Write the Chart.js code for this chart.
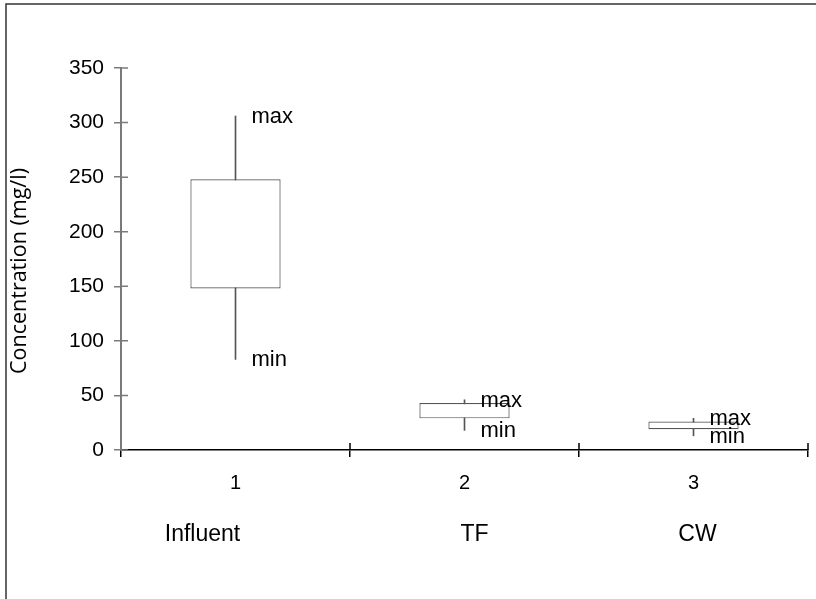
<!DOCTYPE html>
<html>
<head>
<meta charset="utf-8">
<title>Concentration box plot</title>
<script src="https://cdn.jsdelivr.net/npm/chart.js@4/dist/chart.umd.min.js"></script>
<style>
  html, body { margin: 0; padding: 0; background: #fff; }
  canvas { display: block; }
</style>
</head>
<body>
<canvas id="boxChart" width="816" height="599"></canvas>
<script>
// ── Data ──────────────────────────────────────────────────────────────────────

const categories = ["1", "2", "3"];
const siteNames  = ["Influent", "TF", "CW"];

const mins  = [83, 18, 13];
const lows  = [148, 29, 19];
const highs = [248, 43, 26];
const maxs  = [306, 46, 29];

const yTicks = [0, 50, 100, 150, 200, 250, 300, 350];
const yTitle = "Concentration (mg/l)";

// ── Styles ────────────────────────────────────────────────────────────────────

const LINE_GREY  = "#555555";
const AXIS_GREY  = "#7a7a7a";
const TEXT_FONT  = "'Liberation Sans', Arial, sans-serif";
const NAME_NUDGE = [-33, 10, 4];   // site names sit a little off the tick centres

// ── Plugins ───────────────────────────────────────────────────────────────────

// outer frame: left and top edge only
const framePlugin = {
  id: "frame",
  beforeDraw(chart) {
    const { ctx } = chart;
    ctx.save();
    ctx.strokeStyle = "#333";
    ctx.lineWidth = 1.5;
    ctx.beginPath();
    ctx.moveTo(6, chart.height);
    ctx.lineTo(6, 4);
    ctx.lineTo(chart.width, 4);
    ctx.stroke();
    ctx.restore();
  },
};

// tick marks crossing the axes (Chart.js only draws the outer half)
const crossTicksPlugin = {
  id: "crossTicks",
  afterDraw(chart) {
    const { ctx, scales: { x, y } } = chart;
    ctx.save();
    ctx.lineWidth = 1.5;

    ctx.strokeStyle = AXIS_GREY;
    ctx.beginPath();
    yTicks.forEach((v) => {
      const py = y.getPixelForValue(v);
      ctx.moveTo(x.left, py);
      ctx.lineTo(x.left + 7, py);
    });
    ctx.stroke();

    ctx.strokeStyle = "#000";
    ctx.beginPath();
    for (let i = 0; i < categories.length; i++) {
      const px = x.getPixelForValue(i + 0.5);
      ctx.moveTo(px, y.bottom);
      ctx.lineTo(px, y.bottom - 7);
    }
    ctx.stroke();
    ctx.restore();
  },
};

// "max" / "min" beside each whisker, site names under the axis, y title
const labelsPlugin = {
  id: "boxLabels",
  afterDatasetsDraw(chart) {
    const { ctx, scales: { x, y } } = chart;
    ctx.save();
    ctx.fillStyle = "#000";
    ctx.textBaseline = "alphabetic";

    ctx.font = `22px ${TEXT_FONT}`;
    ctx.textAlign = "left";
    categories.forEach((_, i) => {
      const px = x.getPixelForValue(i) + 16;
      ctx.fillText("max", px, y.getPixelForValue(maxs[i]) + 7);
      ctx.fillText("min", px, y.getPixelForValue(mins[i]) + 7);
    });

    ctx.font = `23px ${TEXT_FONT}`;
    ctx.textAlign = "center";
    siteNames.forEach((name, i) => {
      ctx.fillText(name, x.getPixelForValue(i) + NAME_NUDGE[i], x.top + 91);
    });

    // axis title sits a bit below the middle of the value axis
    ctx.translate(20, (y.top + y.bottom) / 2 + 12);
    ctx.rotate(-Math.PI / 2);
    ctx.textBaseline = "middle";
    ctx.font = "21.5px 'Open Sans', sans-serif";
    ctx.fillText(yTitle, 0, 0);
    ctx.restore();
  },
};

// ── Chart ─────────────────────────────────────────────────────────────────────

new Chart(document.getElementById("boxChart"), {
  type: "bar",
  data: {
    labels: categories,
    datasets: [
      {
        label: "Box",
        data: lows.map((lo, i) => [lo, highs[i]]),
        backgroundColor: "#ffffff",
        borderColor: LINE_GREY,
        borderWidth: 1.2,
        borderSkipped: false,
        grouped: false,
        categoryPercentage: 1,
        barPercentage: 0.394,
      },
      {
        label: "Range",
        data: mins.map((lo, i) => [lo, maxs[i]]),
        backgroundColor: LINE_GREY,
        borderWidth: 0,
        grouped: false,
        barThickness: 1,
      },
    ],
  },
  options: {
    responsive: false,
    animation: false,
    layout: { padding: { left: 0, top: 68, right: 8, bottom: 0 } },
    plugins: {
      legend: { display: false },
      tooltip: { enabled: false },
    },
    scales: {
      x: {
        offset: true,
        afterFit: (scale) => { scale.height = 149; },
        grid: {
          offset: true,
          drawOnChartArea: false,
          drawTicks: true,
          tickLength: 7,
          color: "#000",
          lineWidth: 1.5,
        },
        border: { color: "#000", width: 1.5 },
        ticks: {
          color: "#000",
          padding: 14,
          font: { family: TEXT_FONT, size: 20 },
          maxRotation: 0,
        },
      },
      y: {
        min: 0,
        max: 350,
        afterFit: (scale) => { scale.width = 121; },
        afterBuildTicks: (scale) => {
          scale.ticks = yTicks.map((v) => ({ value: v }));
        },
        grid: {
          drawOnChartArea: false,
          drawTicks: true,
          tickLength: 7,
          color: AXIS_GREY,
          lineWidth: 1.5,
        },
        border: { color: AXIS_GREY, width: 2 },
        ticks: {
          color: "#000",
          padding: 10,
          font: { family: TEXT_FONT, size: 21 },
        },
      },
    },
  },
  plugins: [framePlugin, crossTicksPlugin, labelsPlugin],
});
</script>
</body>
</html>
